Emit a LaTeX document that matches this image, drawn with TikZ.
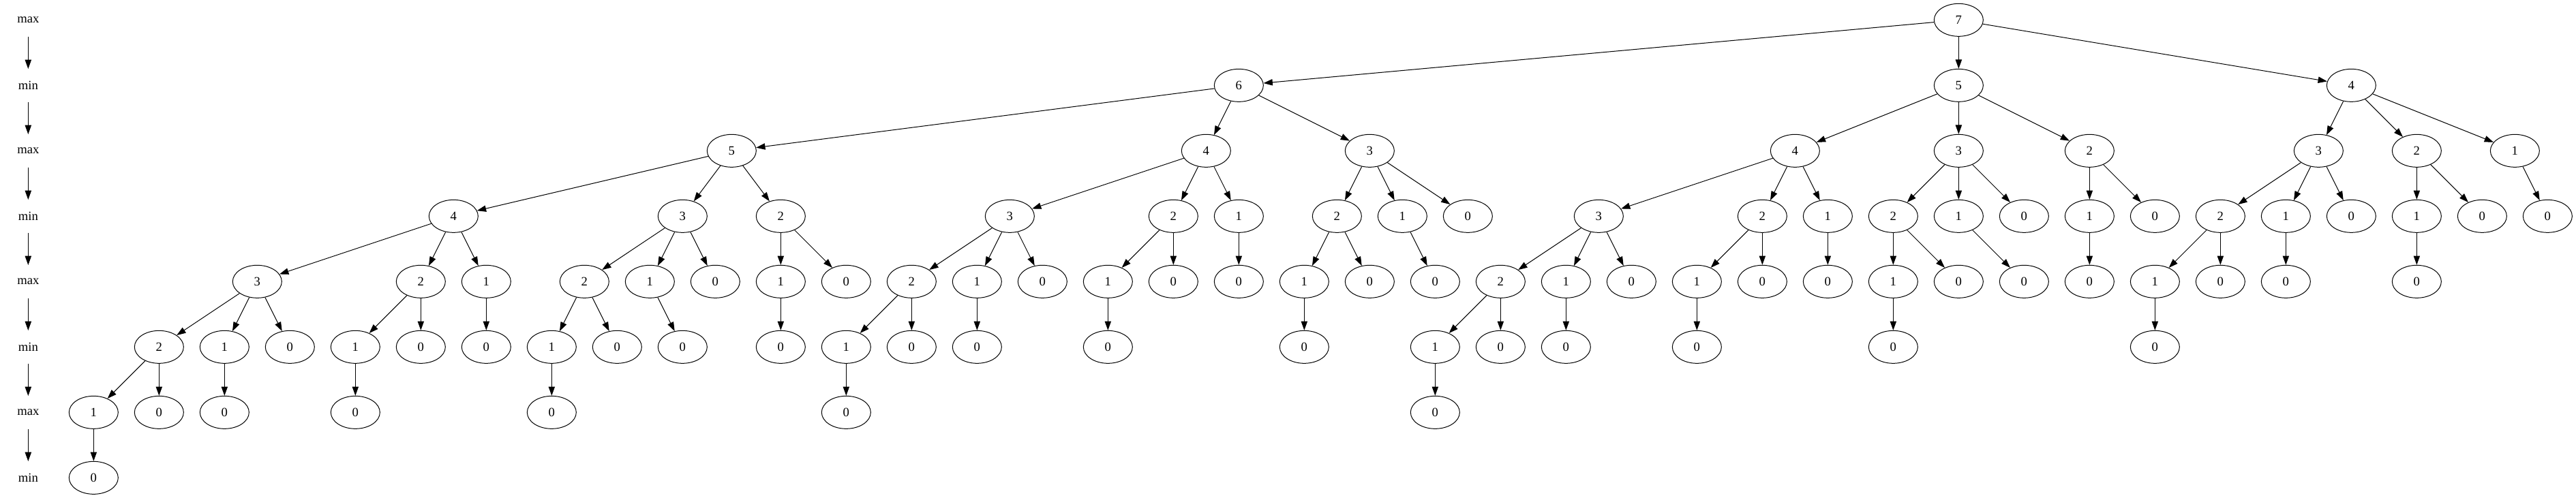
\documentclass[tikz,border=0pt]{standalone}
\usepackage{fontspec}
\setmainfont{Liberation Serif}
\usetikzlibrary{shapes.geometric,arrows.meta}
\begin{document}
\begin{tikzpicture}[x=72pt, y=-72pt,
    gnode/.style={draw, ellipse, minimum width=54pt, minimum height=36pt, inner sep=0pt, line width=0.75pt},
    plab/.style={minimum width=54pt, minimum height=36pt, inner sep=0pt},
    arr/.style={-{Triangle[length=10pt,width=7pt]}, line width=0.75pt},
    font=\fontsize{14pt}{16pt}\selectfont]
    \useasboundingbox (-31pt,22pt) rectangle (2803.25pt,-526.25pt);

    % Level labels on the left
    \foreach \k/\t in {0/max,1/min,2/max,3/min,4/max,5/min,6/max,7/min}
        \node[plab] (lab\k) at (0,\k) {\t};
    \foreach \a/\b in {0/1,1/2,2/3,3/4,4/5,5/6,6/7}
        \draw[arr] (lab\a) -- (lab\b);

    % Root
    \node[gnode] (n7) at (29.5,0) {7};

    % Level 1
    \foreach \p/\c/\v/\x in {n7/n76/6/18.5, n7/n75/5/29.5, n7/n74/4/35.5}{
        \node[gnode] (\c) at (\x,1) {\v};
        \draw[arr] (\p) -- (\c);
    }

    % Level 2
    \foreach \p/\c/\v/\x in {n76/n765/5/10.75, n76/n764/4/18, n76/n763/3/20.5,
        n75/n754/4/27, n75/n753/3/29.5, n75/n752/2/31.5,
        n74/n743/3/35, n74/n742/2/36.5, n74/n741/1/38}{
        \node[gnode] (\c) at (\x,2) {\v};
        \draw[arr] (\p) -- (\c);
    }

    % Level 3
    \foreach \p/\c/\v/\x in {n765/n7654/4/6.5, n765/n7653/3/10, n765/n7652/2/11.5,
        n764/n7643/3/15, n764/n7642/2/17.5, n764/n7641/1/18.5,
        n763/n7632/2/20, n763/n7631/1/21, n763/n7630/0/22,
        n754/n7543/3/24, n754/n7542/2/26.5, n754/n7541/1/27.5,
        n753/n7532/2/28.5, n753/n7531/1/29.5, n753/n7530/0/30.5,
        n752/n7521/1/31.5, n752/n7520/0/32.5,
        n743/n7432/2/33.5, n743/n7431/1/34.5, n743/n7430/0/35.5,
        n742/n7421/1/36.5, n742/n7420/0/37.5,
        n741/n7410/0/38.5}{
        \node[gnode] (\c) at (\x,3) {\v};
        \draw[arr] (\p) -- (\c);
    }

    % Level 4
    \foreach \p/\c/\v/\x in {n7654/n76543/3/3.5, n7654/n76542/2/6, n7654/n76541/1/7,
        n7653/n76532/2/8.5, n7653/n76531/1/9.5, n7653/n76530/0/10.5,
        n7652/n76521/1/11.5, n7652/n76520/0/12.5,
        n7643/n76432/2/13.5, n7643/n76431/1/14.5, n7643/n76430/0/15.5,
        n7642/n76421/1/16.5, n7642/n76420/0/17.5,
        n7641/n76410/0/18.5,
        n7632/n76321/1/19.5, n7632/n76320/0/20.5,
        n7631/n76310/0/21.5,
        n7543/n75432/2/22.5, n7543/n75431/1/23.5, n7543/n75430/0/24.5,
        n7542/n75421/1/25.5, n7542/n75420/0/26.5,
        n7541/n75410/0/27.5,
        n7532/n75321/1/28.5, n7532/n75320/0/29.5,
        n7531/n75310/0/30.5,
        n7521/n75210/0/31.5,
        n7432/n74321/1/32.5, n7432/n74320/0/33.5,
        n7431/n74310/0/34.5,
        n7421/n74210/0/36.5}{
        \node[gnode] (\c) at (\x,4) {\v};
        \draw[arr] (\p) -- (\c);
    }

    % Level 5
    \foreach \p/\c/\v/\x in {n76543/n765432/2/2, n76543/n765431/1/3, n76543/n765430/0/4,
        n76542/n765421/1/5, n76542/n765420/0/6,
        n76541/n765410/0/7,
        n76532/n765321/1/8, n76532/n765320/0/9,
        n76531/n765310/0/10,
        n76521/n765210/0/11.5,
        n76432/n764321/1/12.5, n76432/n764320/0/13.5,
        n76431/n764310/0/14.5,
        n76421/n764210/0/16.5,
        n76321/n763210/0/19.5,
        n75432/n754321/1/21.5, n75432/n754320/0/22.5,
        n75431/n754310/0/23.5,
        n75421/n754210/0/25.5,
        n75321/n753210/0/28.5,
        n74321/n743210/0/32.5}{
        \node[gnode] (\c) at (\x,5) {\v};
        \draw[arr] (\p) -- (\c);
    }

    % Level 6
    \foreach \p/\c/\v/\x in {n765432/n7654321/1/1, n765432/n7654320/0/2,
        n765431/n7654310/0/3,
        n765421/n7654210/0/5,
        n765321/n7653210/0/8,
        n764321/n7643210/0/12.5,
        n754321/n7543210/0/21.5}{
        \node[gnode] (\c) at (\x,6) {\v};
        \draw[arr] (\p) -- (\c);
    }

    % Level 7
    \node[gnode] (n76543210) at (1,7) {0};
    \draw[arr] (n7654321) -- (n76543210);
\end{tikzpicture}
\end{document}
